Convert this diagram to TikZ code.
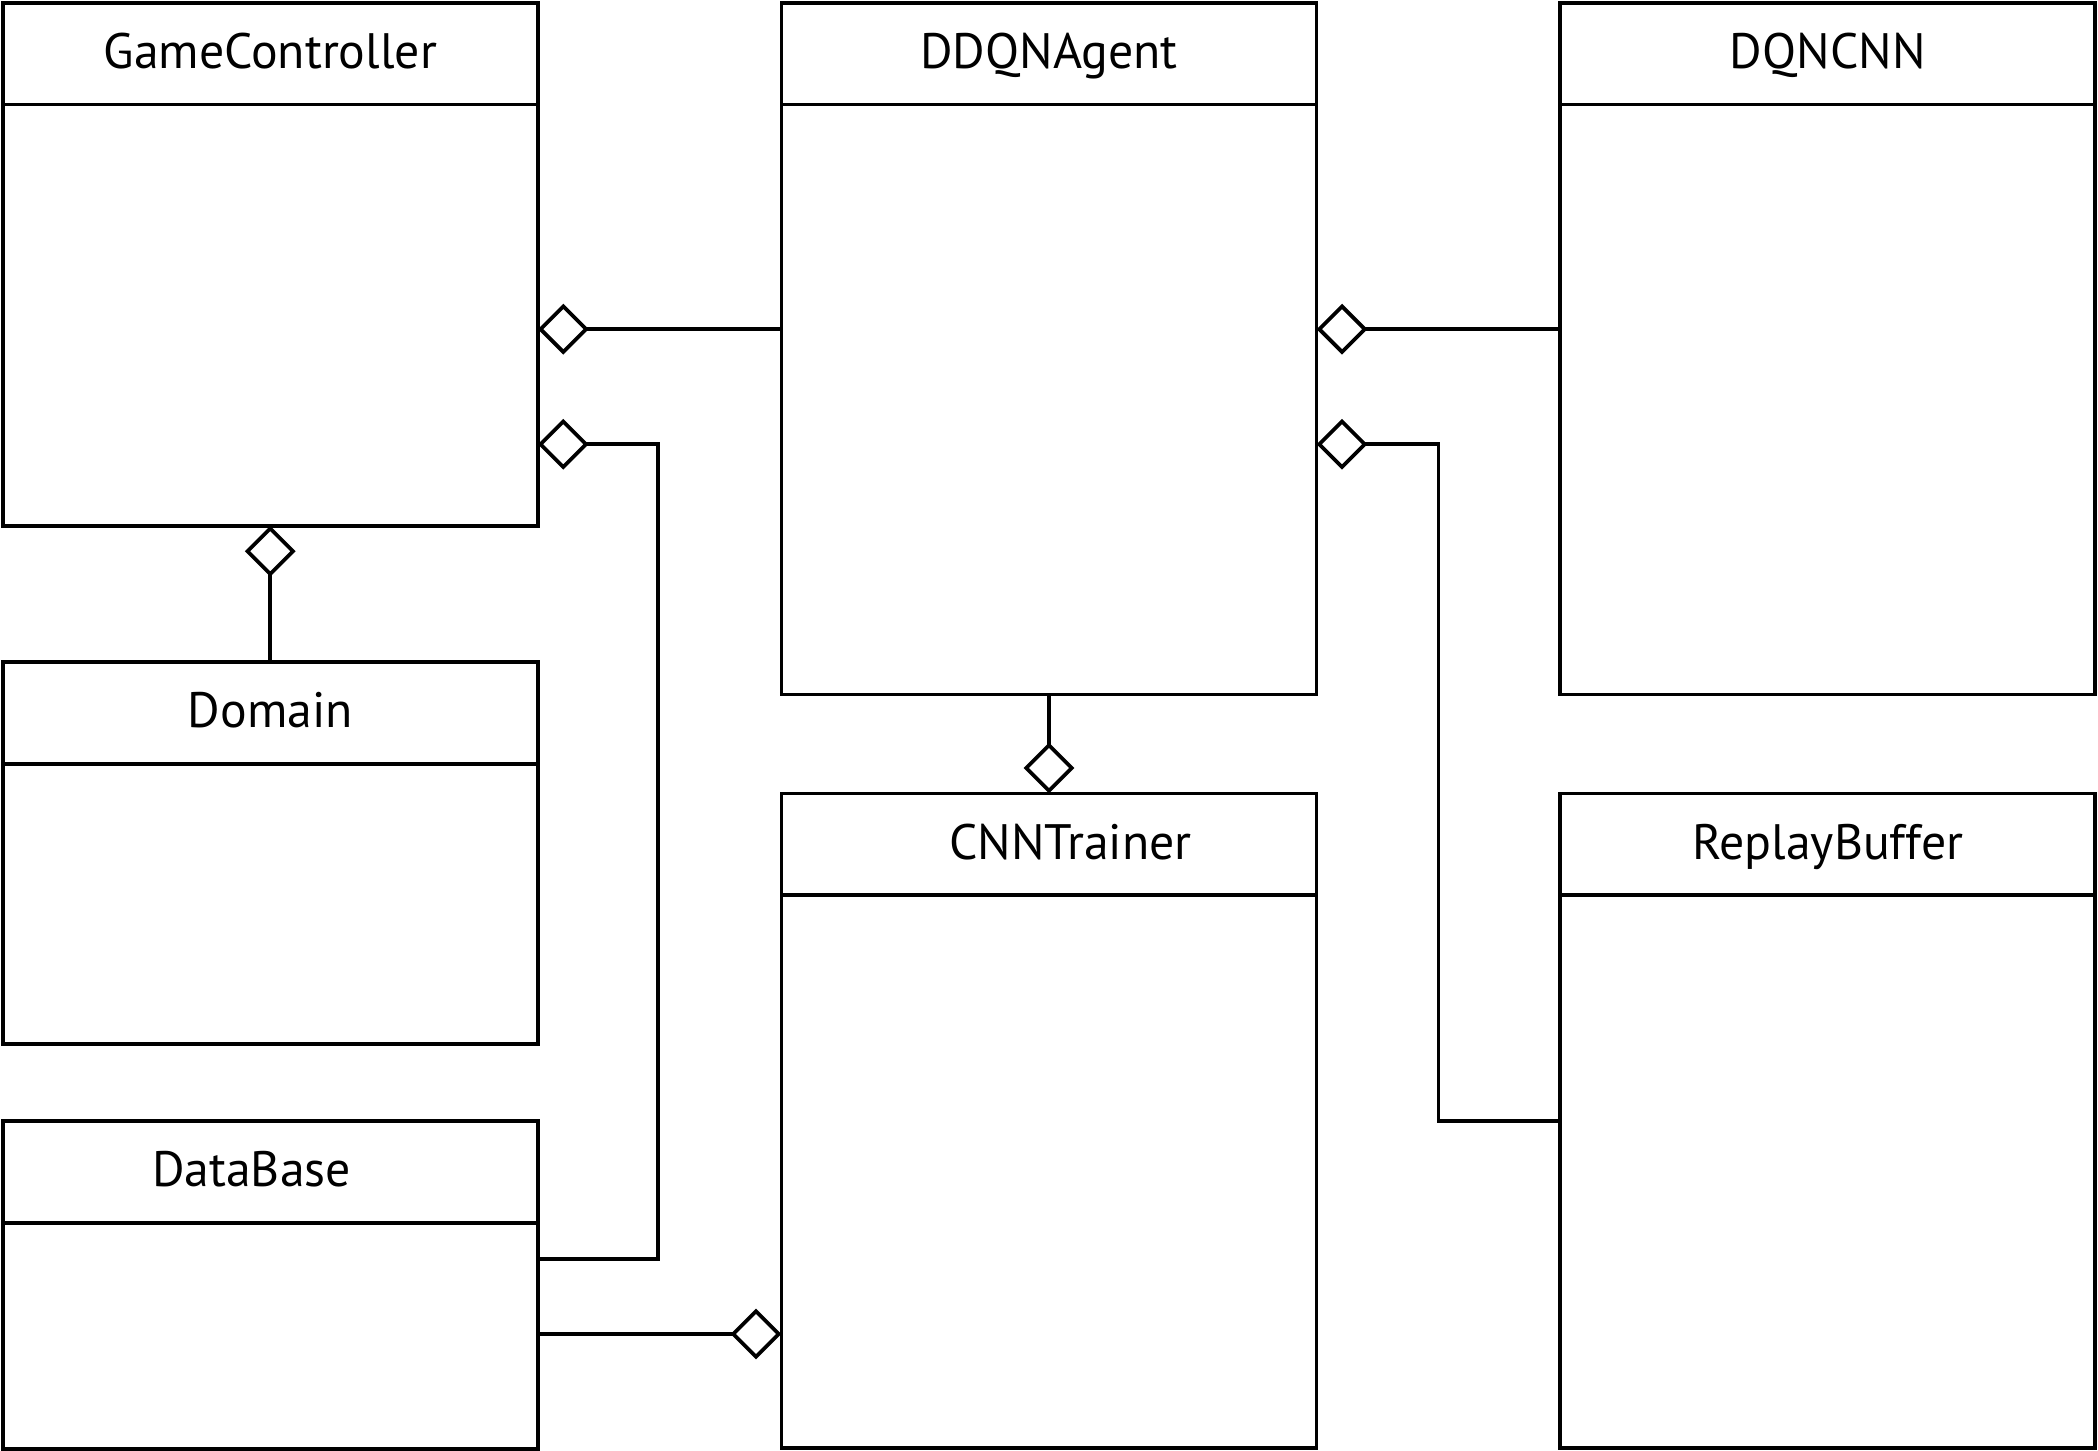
\documentclass[tikz,border=0pt]{standalone}
\usepackage{fontspec}
\setmainfont{PT Sans}
\usetikzlibrary{arrows.meta,positioning}

\tikzset{
  classhead/.style={draw,line width=1.4pt,minimum width=200pt,minimum height=38pt,
    inner sep=0pt,outer sep=0pt,anchor=north west,
    font=\fontsize{18.6}{22}\selectfont,text height=14pt,text depth=3pt},
  classbody/.style={draw,line width=1.4pt,minimum width=200pt,minimum height=#1,
    inner sep=0pt,outer sep=0pt},
  agg/.style={line width=1.4pt,-{Diamond[open,length=19pt,width=19pt]}}
}

\begin{document}
\begin{tikzpicture}[x=0.5pt,y=-0.5pt]
\useasboundingbox (0,0) rectangle (1568,1084);

% class boxes: title part, then body below it
\node[classhead] (GC) at (2,2) {GameController};
\node[classbody=157.5pt,below=0pt of GC] (GCb) {};

\node[classhead] (AG) at (584,2) {DDQNAgent};
\node[classbody=220.5pt,below=0pt of AG] (AGb) {};

\node[classhead] (CN) at (1166,2) {DQNCNN};
\node[classbody=220.5pt,below=0pt of CN] (CNb) {};

\node[classhead] (DO) at (2,495) {Domain};
\node[classbody=104.5pt,below=0pt of DO] (DOb) {};

\node[classhead] (DB) at (2,838) {\hspace*{-14pt}DataBase};
\node[classbody=84.5pt,below=0pt of DB] (DBb) {};

\node[classhead] (TR) at (584,593) {\hspace*{16pt}CNNTrainer};
\node[classbody=206.5pt,below=0pt of TR] (TRb) {};

\node[classhead] (RB) at (1166,593) {ReplayBuffer};
\node[classbody=206.5pt,below=0pt of RB] (RBb) {};

% aggregations
\draw[agg] (AGb.west |- 0,246) -- (GCb.east |- 0,246);
\draw[agg] (DBb.east |- 0,941) -| (492,332) -- (GCb.east |- 0,332);
\draw[agg] (DO.north) -- (GCb.south);
\draw[agg] (CNb.west |- 0,246) -- (AGb.east |- 0,246);
\draw[agg] (RBb.west |- 0,838) -| (1075,332) -- (AGb.east |- 0,332);
\draw[agg] (AGb.south) -- (TR.north);
\draw[agg] (DBb.east |- 0,997) -- (TRb.west |- 0,997);

\end{tikzpicture}
\end{document}
